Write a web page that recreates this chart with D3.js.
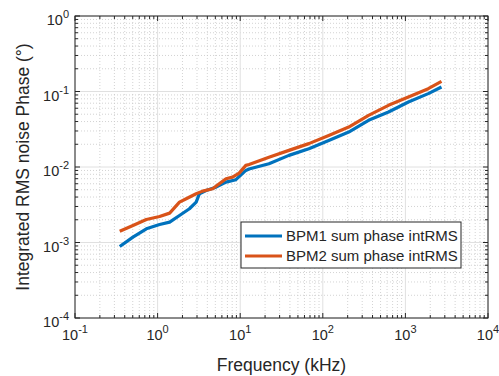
<!DOCTYPE html>
<html>
<head>
<meta charset="utf-8">
<script src="https://cdn.jsdelivr.net/npm/d3@7"></script>
<style>
  body { margin: 0; background: #fff; }
  svg { font-family: "Liberation Sans", Arial, sans-serif; }
</style>
</head>
<body>
<div id="chart"></div>
<script>
// data
const freqBPM1 = [0.348, 0.503, 0.731, 1.057, 1.40, 1.84, 2.43, 2.93, 3.21, 3.86, 5.10, 6.73, 8.87, 11.7, 12.8,
  22.3, 38.9, 67.8, 118, 206, 358, 624, 1087, 1892, 2735];
const rmsBPM1 = [0.000885, 0.00118, 0.00152, 0.00173, 0.00186, 0.00228, 0.0028, 0.00342, 0.00443, 0.00489, 0.00541, 0.00631, 0.00679, 0.00901, 0.0094,
  0.01106, 0.01426, 0.0175, 0.0225, 0.029, 0.0415, 0.0535, 0.0726, 0.0938, 0.1148];
const freqBPM2 = [0.348, 0.503, 0.731, 1.057, 1.40, 1.84, 2.22, 2.93, 3.51, 4.64, 5.58, 6.73, 8.07, 9.72, 11.7, 12.8,
  22.3, 38.9, 67.8, 118, 206, 358, 624, 1087, 1892, 2735];
const rmsBPM2 = [0.00141, 0.00168, 0.00202, 0.00221, 0.00245, 0.00342, 0.0038, 0.00443, 0.00479, 0.00515, 0.00601, 0.0070, 0.00735, 0.0083, 0.0105, 0.0108,
  0.0135, 0.0166, 0.0204, 0.0262, 0.0338, 0.0483, 0.0656, 0.0845, 0.109, 0.1365];
const seriesNames = ["BPM1 sum phase intRMS", "BPM2 sum phase intRMS"];
const seriesColors = ["#0072BD", "#D95319"];
const xTickExp = [-1, 0, 1, 2, 3, 4];
const yTickExp = [-4, -3, -2, -1, 0];

const W = 499, H = 376;
const margin = {top: 16, right: 11, bottom: 58, left: 75};
const width = W - margin.left - margin.right,
      height = H - margin.top - margin.bottom;

const svg = d3.select("#chart").append("svg")
    .attr("width", W)
    .attr("height", H);

const g = svg.append("g")
    .attr("transform", "translate(" + margin.left + "," + margin.top + ")");

const x = d3.scaleLog().domain([0.1, 10000]).range([0, width]);
const y = d3.scaleLog().domain([0.0001, 1]).range([height, 0]);

// minor positions 2..9 per decade
const minorX = [], minorY = [];
xTickExp.slice(0, -1).forEach(e => { for (let k = 2; k <= 9; k++) minorX.push(k * Math.pow(10, e)); });
yTickExp.slice(0, -1).forEach(e => { for (let k = 2; k <= 9; k++) minorY.push(k * Math.pow(10, e)); });
const majorX = xTickExp.map(e => Math.pow(10, e));
const majorY = yTickExp.map(e => Math.pow(10, e));

// minor grid (dotted)
g.append("g").selectAll("line").data(minorX).enter().append("line")
    .attr("x1", d => x(d)).attr("x2", d => x(d))
    .attr("y1", 0).attr("y2", height)
    .attr("stroke", "#c8c8c8").attr("stroke-width", 0.8)
    .attr("stroke-dasharray", "1,2");
g.append("g").selectAll("line").data(minorY).enter().append("line")
    .attr("y1", d => y(d)).attr("y2", d => y(d))
    .attr("x1", 0).attr("x2", width)
    .attr("stroke", "#c8c8c8").attr("stroke-width", 0.8)
    .attr("stroke-dasharray", "1,2");

// major grid
g.append("g").selectAll("line").data(majorX).enter().append("line")
    .attr("x1", d => x(d)).attr("x2", d => x(d))
    .attr("y1", 0).attr("y2", height)
    .attr("stroke", "#e0e0e0").attr("stroke-width", 1);
g.append("g").selectAll("line").data(majorY).enter().append("line")
    .attr("y1", d => y(d)).attr("y2", d => y(d))
    .attr("x1", 0).attr("x2", width)
    .attr("stroke", "#e0e0e0").attr("stroke-width", 1);

// axes with inward ticks on all four sides
const tickCol = "#262626";
function ticks(vals, len) {
  const t = g.append("g").attr("stroke", tickCol).attr("stroke-width", 1);
  vals.forEach(v => {
    const xv = x(v);
    if (xv >= 0 && xv <= width) {
      t.append("line").attr("x1", xv).attr("x2", xv).attr("y1", height).attr("y2", height - len);
      t.append("line").attr("x1", xv).attr("x2", xv).attr("y1", 0).attr("y2", len);
    }
  });
}
function yticks(vals, len) {
  const t = g.append("g").attr("stroke", tickCol).attr("stroke-width", 1);
  vals.forEach(v => {
    const yv = y(v);
    t.append("line").attr("y1", yv).attr("y2", yv).attr("x1", 0).attr("x2", len);
    t.append("line").attr("y1", yv).attr("y2", yv).attr("x1", width).attr("x2", width - len);
  });
}
ticks(majorX, 5); ticks(minorX, 3);
yticks(majorY, 5); yticks(minorY, 3);

g.append("rect")
    .attr("width", width).attr("height", height)
    .attr("fill", "none").attr("stroke", tickCol).attr("stroke-width", 1);

// tick labels 10^n
xTickExp.forEach(e => {
  const t = g.append("text")
      .attr("x", x(Math.pow(10, e)))
      .attr("y", height + 22)
      .attr("text-anchor", "middle")
      .attr("fill", tickCol)
      .style("font-size", "14.5px");
  t.append("tspan").text("10");
  t.append("tspan").attr("dy", -7).style("font-size", "11px").text(e);
});
yTickExp.forEach(e => {
  const t = g.append("text")
      .attr("x", -6)
      .attr("y", y(Math.pow(10, e)) + 9)
      .attr("text-anchor", "end")
      .attr("fill", tickCol)
      .style("font-size", "14.5px");
  t.append("tspan").text("10");
  t.append("tspan").attr("dy", -7).style("font-size", "11px").text(e);
});

// axis labels
g.append("text")
    .attr("x", width / 2)
    .attr("y", height + 53)
    .attr("text-anchor", "middle")
    .attr("fill", tickCol)
    .style("font-size", "17.5px")
    .text("Frequency (kHz)");

g.append("text")
    .attr("transform", "rotate(-90)")
    .attr("x", -height / 2)
    .attr("y", -46)
    .attr("text-anchor", "middle")
    .attr("fill", tickCol)
    .style("font-size", "17.5px")
    .text("Integrated RMS noise Phase (°)");

// lines
const line = d3.line()
    .x(d => x(d[0]))
    .y(d => y(d[1]));

const series = [
  d3.zip(freqBPM1, rmsBPM1),
  d3.zip(freqBPM2, rmsBPM2)
];

series.forEach((s, i) => {
  g.append("path")
      .datum(s)
      .attr("fill", "none")
      .attr("stroke", seriesColors[i])
      .attr("stroke-width", 3.2)
      .attr("stroke-linejoin", "round")
      .attr("d", line);
});

// legend
const lg = g.append("g").attr("transform", "translate(" + (241 - margin.left) + "," + (222 - margin.top) + ")");
lg.append("rect")
    .attr("width", 220).attr("height", 46)
    .attr("fill", "#fff").attr("stroke", tickCol).attr("stroke-width", 1);
seriesNames.forEach((n, i) => {
  lg.append("line")
      .attr("x1", 4).attr("x2", 41)
      .attr("y1", 14 + i * 20).attr("y2", 14 + i * 20)
      .attr("stroke", seriesColors[i]).attr("stroke-width", 3);
  lg.append("text")
      .attr("x", 45)
      .attr("y", 14 + i * 20)
      .attr("dy", "0.35em")
      .attr("fill", tickCol)
      .style("font-size", "15px")
      .text(n);
});
</script>
</body>
</html>
